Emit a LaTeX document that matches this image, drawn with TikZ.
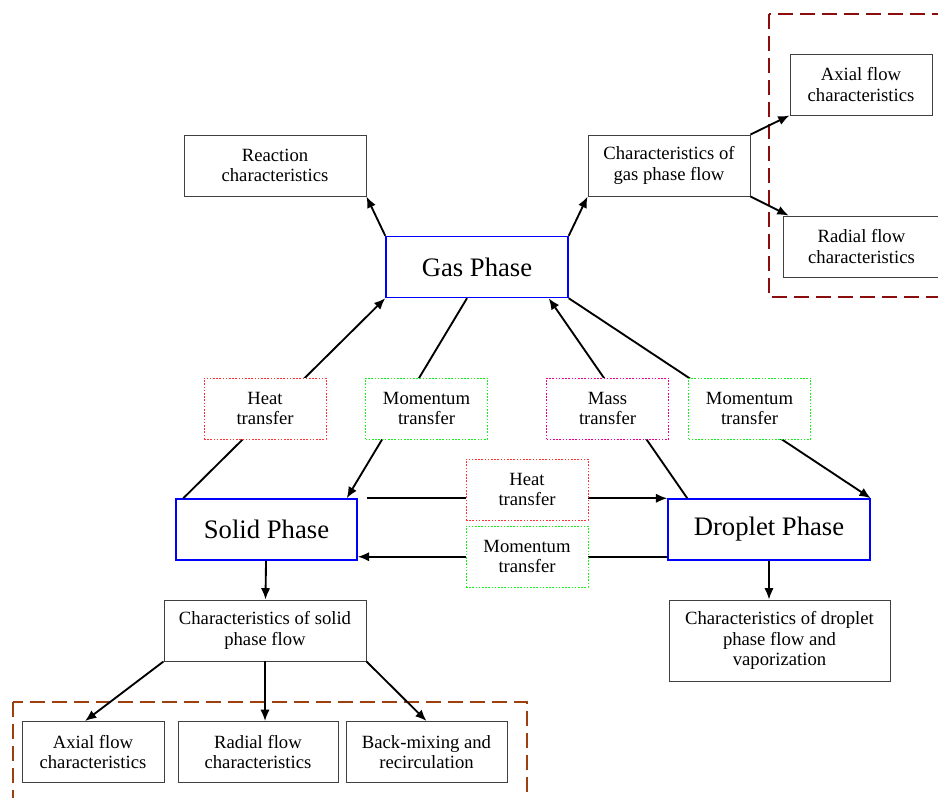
\documentclass[tikz,border=0pt]{standalone}
\usepackage{fontspec}
\setmainfont{Liberation Serif}
\usepackage{tikz}
\usetikzlibrary{arrows.meta}
\usetikzlibrary{calc}
\tikzset{box/.style = {draw = black!75, line width = 0.7pt, fill = white, align = center,
    minimum height = 45.75pt, inner sep = 0, font = \fontsize{14}{15.5}\selectfont}}
\tikzset{phase/.style = {box, draw = blue, line width = 1.1pt, font = \fontsize{20}{24}\selectfont}}
\tikzset{xfer/.style = {box, dash pattern = on 1.2pt off 1.2pt, line width = 0.6pt,
    minimum width = 91.5pt}}
\tikzset{link/.style = {line width = 1.4pt, -{Latex[length = 8.5pt, width = 7pt]}}}
\tikzset{group/.style = {line width = 1.8pt, dash pattern = on 11pt off 5.5pt}}
\definecolor{mred}{rgb}{0.55, 0.05, 0.05}
\definecolor{mrust}{rgb}{0.62, 0.25, 0.05}
\definecolor{mgreen}{rgb}{0.1, 0.95, 0.1}
\definecolor{mpink}{rgb}{1, 0.2, 0.2}

\begin{document}
\begin{tikzpicture}[x = 0.75pt, y = -0.75pt]
    \useasboundingbox (0, 0) rectangle (938, 798);

    % groups
    \draw [group, mred] (769, 14) rectangle (960, 297);
    \draw [group, mrust] (13, 702) rectangle (527, 820);

    % phases
    \node [phase, minimum width = 136.5pt] (gas) at (477, 267) {Gas Phase};
    \node [phase, minimum width = 135.75pt] (solid) at (266.5, 529.5) {Solid Phase};
    \node [phase, minimum width = 151.5pt] (drop) at (769, 529.5) {Droplet Phase};

    % outputs
    \node [box, minimum width = 136.5pt] (react) at (275, 165.5) {Reaction\\characteristics};
    \node [box, minimum width = 121.5pt] (gflow) at (669, 165.5) {Characteristics of\\gas phase flow};
    \node [box, minimum width = 106.5pt] (gaxial) at (861, 84.5) {Axial flow\\characteristics};
    \node [box, minimum width = 117.75pt] (gradial) at (861.5, 246.5) {Radial flow\\characteristics};
    \node [box, minimum width = 151.5pt] (sflow) at (265, 630.5) {Characteristics of solid\\phase flow};
    \node [box, minimum width = 165.75pt, minimum height = 60.75pt] (dflow) at (779.5, 640.5)
        {Characteristics of droplet\\phase flow and\\vaporization};
    \node [box, minimum width = 106.5pt] (saxial) at (93, 752) {Axial flow\\characteristics};
    \node [box, minimum width = 120pt] (sradial) at (258, 752) {Radial flow\\characteristics};
    \node [box, minimum width = 120.75pt] (smix) at (426.5, 752) {Back-mixing and\\recirculation};

    % links
    \draw [link] (gas.north west) -- (react.south east);
    \draw [link] (gas.north east) -- (gflow.south west);
    \draw [link] (gflow.north east) -- (gaxial.south west);
    \draw [link] (gflow.south east) -- ($(gradial.north west) + (6, 0)$);
    \draw [link] ($(solid.north west) + (8, 0)$) -- (gas.south west);
    \draw [link] ($(gas.south) + (-10, 0)$) -- ($(solid.north east) + (-11, 0)$);
    \draw [link] ($(drop.north west) + (20, 0)$) -- ($(gas.south east) + (-20, 0)$);
    \draw [link] (gas.south east) -- (drop.north east);
    \draw [link] ($(solid.north east) + (9, 0)$) -- (drop.north west);
    \draw [link] ($(drop.south west) + (0, -4)$) -- ($(solid.south east) + (0, -4)$);
    \draw [link] (solid) -- (sflow);
    \draw [link] (drop) -- (drop |- dflow.north);
    \draw [link] (sflow.south west) -- ($(saxial.north) + (-8, 0)$);
    \draw [link] (sflow) -- (sflow |- sradial.north);
    \draw [link] (sflow.south east) -- (smix.north);

    % transfer labels
    \node [xfer, draw = mpink] (heat1) at (265, 408.5) {Heat\\transfer};
    \node [xfer, draw = mgreen] (mom1) at (426.5, 408.5) {Momentum\\transfer};
    \node [xfer, draw = magenta] (mass) at (607.5, 408.5) {Mass\\transfer};
    \node [xfer, draw = mgreen] (mom2) at (749.5, 408.5) {Momentum\\transfer};
    \node [xfer, draw = mpink] (heat2) at (527, 489.5) {Heat\\transfer};
    \node [xfer, draw = mgreen] (mom3) at (527, 556.5) {Momentum\\transfer};
  \end{tikzpicture}
\end{document}
